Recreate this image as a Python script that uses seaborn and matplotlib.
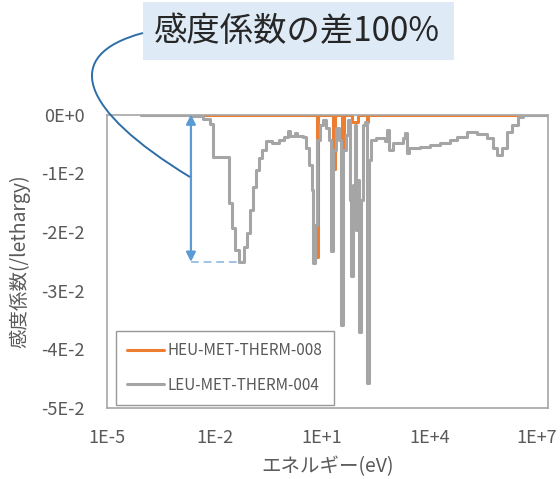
import matplotlib
matplotlib.use("Agg")
import matplotlib.pyplot as plt
import numpy as np
import pandas as pd
import seaborn as sns
from matplotlib.lines import Line2D
from matplotlib.patches import Rectangle, PathPatch
from matplotlib.path import Path
from matplotlib.ticker import NullLocator, FixedLocator, FixedFormatter

# Group-wise sensitivity profiles (lower group bound in eV, sensitivity per lethargy)
energy_leu = [8.9e-5, 1.1e-3, 2.4e-3, 4.8e-3, 7.5e-3, 9.1e-3, 2.5e-2, 3.1e-2, 3.7e-2,
              4.8e-2, 6.7e-2, 8.1e-2, 9.8e-2, 0.119, 0.144, 0.175, 0.212, 0.274, 0.40,
              0.63, 0.87, 1.13, 1.28, 1.77, 2.0, 2.95, 3.58, 4.34, 5.27, 5.6, 6.4, 7.3,
              8.8, 10.7, 12.9, 15.7, 17.9, 20.3, 24.6, 29.9, 34.0, 38.6, 46.8, 53.2,
              60.5, 64.6, 73.4, 83.5, 89.0, 101.0, 108.0, 123.0, 140.0, 159.0, 180.0,
              205.0, 233.0, 322.0, 574.0, 653.0, 742.0, 960.0, 1820.0, 2070.0, 2360.0,
              2690.0, 5440.0, 1.04e4, 1.97e4, 3.74e4, 5.87e4, 1.11e5, 2.12e5, 4.04e5,
              5.93e5, 7.67e5, 1.06e6, 1.46e6, 2.01e6, 2.96e6, 4.08e6, 2.0e7]
sens_leu = [0.0, -0.0001, -0.0003, -0.0008, -0.0016, -0.0072, -0.0151, -0.0193, -0.0231,
            -0.0251, -0.0226, -0.0202, -0.0163, -0.0124, -0.0095, -0.0074, -0.0060,
            -0.0045, -0.0049, -0.0043, -0.0038, -0.0028, -0.0037, -0.0032, -0.0037,
            -0.0038, -0.0057, -0.0086, -0.0129, -0.0253, -0.0188, -0.0043, -0.0018,
            -0.0009, -0.0023, -0.0043, -0.0233, -0.0060, -0.0023, -0.0043, -0.0359,
            -0.0060, -0.0035, -0.0009, -0.0146, -0.0275, -0.0120, -0.0018, -0.0197,
            -0.0112, -0.0371, -0.0146, -0.0018, -0.0013, -0.0458, -0.0078, -0.0043,
            -0.0040, -0.0045, -0.0026, -0.0060, -0.0049, -0.0040, -0.0032, -0.0066,
            -0.0057, -0.0055, -0.0052, -0.0049, -0.0043, -0.0038, -0.0030, -0.0033,
            -0.0040, -0.0057, -0.0069, -0.0057, -0.0030, -0.0018, -0.0004, 0.0, 0.0]

energy_heu = [8.9e-5, 7.3, 7.8, 20.3, 23.0, 36.0, 40.0, 69.0, 101.0, 180.0, 196.0, 2.0e7]
sens_heu = [0.0, -0.0243, 0.0, -0.0093, 0.0, -0.0058, 0.0, -0.0012, 0.0, -0.0013, 0.0, 0.0]

series_names = ["HEU-MET-THERM-008", "LEU-MET-THERM-004"]
series_colors = ["#ED7D31", "#A5A5A5"]

x_ticks = [1e-5, 1e-2, 1e1, 1e4, 1e7]
x_tick_labels = ["1E-5", "1E-2", "1E+1", "1E+4", "1E+7"]
y_ticks = [0.0, -0.01, -0.02, -0.03, -0.04, -0.05]
y_tick_labels = ["0E+0", "-1E-2", "-2E-2", "-3E-2", "-4E-2", "-5E-2"]

# Energy of the double arrow and end of the dashed guide
gap_energy = [2.2e-3, 5.1e-2]
callout_text = "感度係数の差100%"

sns.set_theme(style="white")
plt.rcParams["font.family"] = ["Noto Sans CJK JP", "DejaVu Sans"]

df = pd.concat([
    pd.DataFrame({"energy": energy_heu, "sens": sens_heu, "series": series_names[0]}),
    pd.DataFrame({"energy": energy_leu, "sens": sens_leu, "series": series_names[1]}),
], ignore_index=True)

fig = plt.figure(figsize=(5.6, 4.79), dpi=100)
ax = fig.add_axes([107 / 560, 1 - 408 / 479, 441 / 560, 293.5 / 479])

palette = dict(zip(series_names, series_colors))
sns.lineplot(data=df, x="energy", y="sens", hue="series", hue_order=series_names,
             palette=palette, estimator=None, sort=False, drawstyle="steps-post",
             linewidth=2.2, legend=False, ax=ax)

ax.set_xscale("log")
ax.set_xlim(1e-5, 2.03e7)
ax.set_ylim(-0.05, 0.0)
ax.xaxis.set_major_locator(FixedLocator(x_ticks))
ax.xaxis.set_major_formatter(FixedFormatter(x_tick_labels))
ax.xaxis.set_minor_locator(NullLocator())
ax.yaxis.set_major_locator(FixedLocator(y_ticks))
ax.yaxis.set_major_formatter(FixedFormatter(y_tick_labels))

tick_color = "#595959"
ax.tick_params(axis="x", length=0, pad=15, labelsize=13, colors=tick_color)
ax.tick_params(axis="y", length=0, pad=16, labelsize=13, colors=tick_color)
for sp in ax.spines.values():
    sp.set_visible(True)
    sp.set_color("#A6A6A6")
    sp.set_linewidth(1.2)

ax.set_xlabel("エネルギー(eV)", fontsize=14, color=tick_color, labelpad=7)
ax.set_ylabel("感度係数(/lethargy)", fontsize=14, color=tick_color, labelpad=8)

# Gap between the two profiles: double arrow and dashed guide at the thermal LEU minimum
thermal = [s for e, s in zip(energy_leu, sens_leu) if e < 1.0]
gap_value = min(thermal)
ax.annotate("", xy=(gap_energy[0], 0.0), xytext=(gap_energy[0], gap_value),
            arrowprops=dict(arrowstyle="<|-|>", color="#5B9BD5", lw=1.6,
                            mutation_scale=14, shrinkA=0, shrinkB=0))
ax.plot(gap_energy, [gap_value, gap_value], color="#9DC3E6", lw=1.4,
        linestyle=(0, (4, 2.5)))

handles = [Line2D([], [], color=c, lw=2.2) for c in series_colors]
leg = ax.legend(handles, series_names, loc="lower left",
                bbox_to_anchor=(9 / 441, 3 / 293.5), borderaxespad=0,
                fontsize=11, labelspacing=1.15, handlelength=2.4,
                handletextpad=0.2, borderpad=0.75, frameon=True, fancybox=False,
                labelcolor=tick_color)
leg.get_frame().set_edgecolor("#7F7F7F")
leg.get_frame().set_linewidth(1.0)


def fig_xy(px, py):
    return (px / 560, 1 - py / 479)


# Callout box with leader curve
fig.patches.append(Rectangle(fig_xy(143, 60), 311 / 560, 58 / 479,
                             transform=fig.transFigure, facecolor="#DEEAF6",
                             edgecolor="none", zorder=1))
fig.text(*fig_xy(297, 31), callout_text, fontsize=24, color="#262626",
         ha="center", va="center", zorder=2)
curve = Path([fig_xy(143, 33), fig_xy(60, 55), fig_xy(80, 110), fig_xy(190, 177)],
             [Path.MOVETO, Path.CURVE4, Path.CURVE4, Path.CURVE4])
fig.patches.append(PathPatch(curve, transform=fig.transFigure, facecolor="none",
                             edgecolor="#2E6DA8", lw=1.4, zorder=3))

fig.savefig("out.png", dpi=100)
